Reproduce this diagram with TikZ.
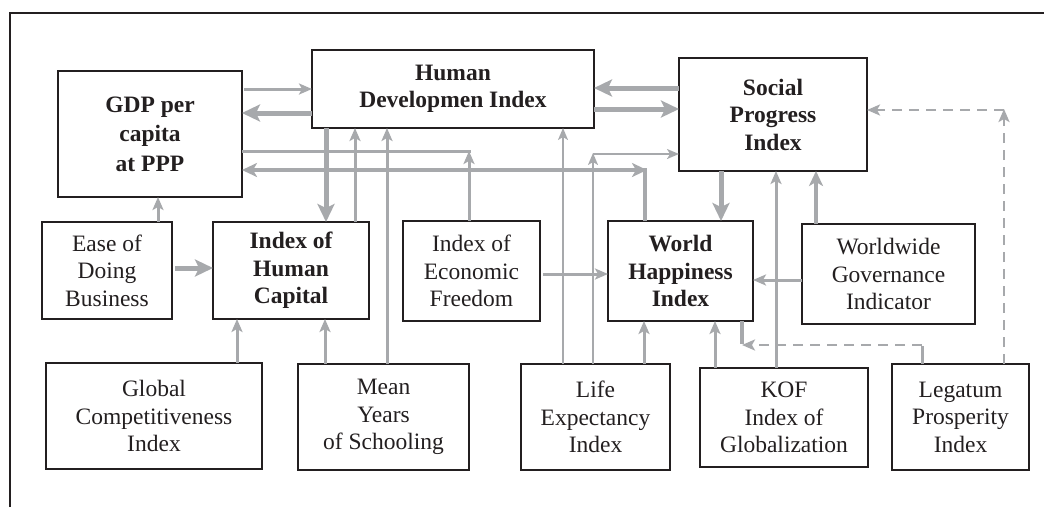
\documentclass[tikz,border=0pt]{standalone}
\usepackage{fontspec}
\setmainfont{Liberation Serif}
\usetikzlibrary{arrows.meta}
\definecolor{ink}{HTML}{231F20}
\definecolor{link}{HTML}{A7A9AC}

\begin{document}
\begin{tikzpicture}[x=1pt,y=-1pt,
  box/.style={draw=ink, line width=1.3pt, inner sep=0pt, outer sep=0pt,
    align=center, text=ink, font=\fontsize{23.5}{27.5}\selectfont},
  key/.style={box, font=\fontsize{23.5}{27.5}\selectfont\bfseries},
  thinlink/.style={draw=link, line width=1.8pt, -{Stealth[length=12pt,width=10pt,inset=3pt]}},
  medlink/.style={draw=link, line width=3pt, -{Stealth[length=13pt,width=11pt,inset=3pt]}},
  widelink/.style={draw=link, line width=4pt, -{Stealth[length=15pt,width=14pt,inset=4pt]}},
  thicklink/.style={draw=link, line width=5pt, -{Stealth[length=18pt,width=17pt,inset=4pt]}},
  dashlink/.style={draw=link, line width=2.4pt, dash pattern=on 10pt off 7pt,
    -{Stealth[length=13pt,width=11pt,inset=3pt]}},
  plainlink/.style={draw=link, line width=3pt},
]
\useasboundingbox (0,0) rectangle (1044,507);

% frame
\draw[ink, line width=1.3pt] (10,507) -- (10,13) -- (1044,13);

% indices
\node[key, minimum width=184pt, minimum height=126pt] (gdp) at (150,134) {GDP per\\[2pt]capita\\[2pt]at PPP};
\node[key, minimum width=282pt, minimum height=78pt] (hdi) at (453,89) {Human\\Developmen Index};
\node[key, minimum width=188pt, minimum height=113pt] (spi) at (773,114.5) {Social\\Progress\\Index};
\node[box, minimum width=130pt, minimum height=97pt] (ease) at (107,270.5) {Ease of\\Doing\\Business};
\node[key, minimum width=156pt, minimum height=97pt] (ihc) at (291,270.5) {Index of\\Human\\Capital};
\node[box, minimum width=137pt, minimum height=100pt] (ief) at (471.5,271) {Index of\\Economic\\Freedom};
\node[key, minimum width=145pt, minimum height=100pt] (whi) at (680.5,271) {World\\Happiness\\Index};
\node[box, minimum width=173pt, minimum height=100pt] (wgi) at (888.5,274) {Worldwide\\Governance\\Indicator};
\node[box, minimum width=216pt, minimum height=106pt] (gci) at (154,416) {Global\\Competitiveness\\Index};
\node[box, minimum width=171pt, minimum height=106pt] (mys) at (383.5,417) {Mean\\Years\\of Schooling};
\node[box, minimum width=149pt, minimum height=106pt] (life) at (595.5,417) {Life\\Expectancy\\Index};
\node[box, minimum width=168pt, minimum height=99pt] (kof) at (784,417.5) {KOF\\Index of\\Globalization};
\node[box, minimum width=137pt, minimum height=106pt] (lpi) at (960.5,417) {Legatum\\Prosperity\\Index};

% bend points
\coordinate (efturn) at (469,151);
\coordinate (whturn) at (645,170);
\coordinate (leturn) at (593,154);
\coordinate (lgturn) at (922,345);
\coordinate (lgback) at (742,345);
\coordinate (lgup) at (1004,110);

% GDP <-> HDI
\draw[medlink, shorten <=2pt] (gdp.east |- 0,89) -- (hdi.west |- 0,89);
\draw[thicklink] (hdi.west |- 0,113) -- (gdp.east |- 0,113);

% Economic Freedom -> GDP
\draw[plainlink] (gdp.east |- efturn) -- ([xshift=1.5pt]efturn);
\draw[medlink] (469,0 |- ief.north) -- (efturn);

% World Happiness -> GDP
\draw[widelink] (whturn |- whi.north) |- (gdp.east |- whturn);
\draw[widelink] ([xshift=-40pt]whturn) -- ([xshift=2pt]whturn);

% HDI <-> SPI
\draw[thicklink] (spi.west |- 0,88) -- (hdi.east |- 0,88);
\draw[thicklink] (hdi.east |- 0,109) -- (spi.west |- 0,109);

% Life Expectancy -> SPI, HDI, WHI
\draw[thinlink] (leturn |- life.north) -- ([yshift=1pt]leturn);
\draw[thinlink] (leturn) -- (spi.west |- leturn);
\draw[thinlink] (563,0 |- life.north) -- (563,0 |- hdi.south);
\draw[medlink] (644,0 |- life.north) -- (644,0 |- whi.south);

% HDI <-> Human Capital
\draw[thicklink] (326,0 |- hdi.south) -- (326,0 |- ihc.north);
\draw[medlink] (355,0 |- ihc.north) -- (355,0 |- hdi.south);

% Mean Years of Schooling
\draw[medlink] (387,0 |- mys.north) -- (387,0 |- hdi.south);
\draw[medlink] (325,0 |- mys.north) -- (325,0 |- ihc.south);

% Global Competitiveness -> Human Capital
\draw[medlink] (237,0 |- gci.north) -- (237,0 |- ihc.south);

% Ease of Doing Business
\draw[medlink] (158,0 |- ease.north) -- (158,0 |- gdp.south);
\draw[thicklink, shorten <=3pt] (ease.east |- 0,268) -- (ihc.west |- 0,268);

% Economic Freedom -> WHI
\draw[medlink, shorten <=3pt] (ief.east |- 0,274) -- (whi.west |- 0,274);

% SPI -> WHI, Governance -> SPI, KOF -> SPI
\draw[thicklink] (721,0 |- spi.south) -- (721,0 |- whi.north);
\draw[widelink] (816,0 |- wgi.north) -- (816,0 |- spi.south);
\draw[medlink] (776,0 |- kof.north) -- (776,0 |- spi.south);

% Governance -> WHI, KOF -> WHI
\draw[medlink] (wgi.west |- 0,280) -- (whi.east |- 0,280);
\draw[medlink] (715,0 |- kof.north) -- (715,0 |- whi.south);

% Legatum Prosperity
\draw[plainlink] (lgturn |- lpi.north) -- ([yshift=-1.2pt]lgturn);
\draw[dashlink] (lgturn) -- (lgback);
\draw[draw=link, line width=4pt] (lgback |- whi.south) -- ([yshift=1pt]lgback);
\draw[dashlink] (lgup |- lpi.north) -- ([yshift=1pt]lgup);
\draw[dashlink] (lgup) -- (spi.east |- lgup);
\end{tikzpicture}
\end{document}
